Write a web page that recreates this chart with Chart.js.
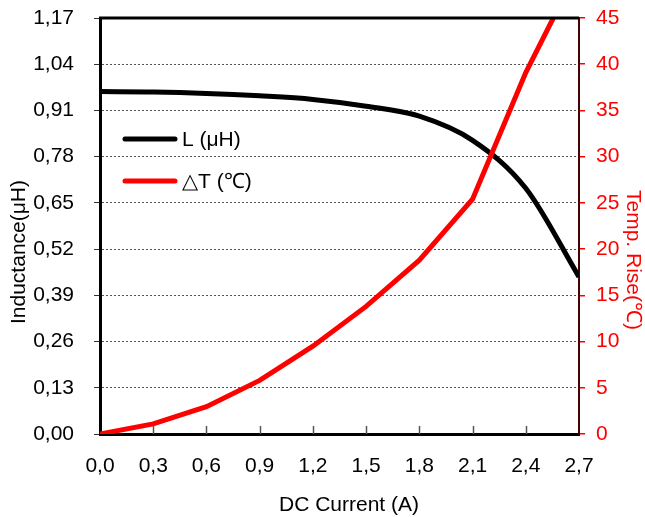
<!DOCTYPE html>
<html>
<head>
<meta charset="utf-8">
<script src="https://cdn.jsdelivr.net/npm/chart.js@4.4.0/dist/chart.umd.min.js"></script>
<style>
  html, body { margin: 0; padding: 0; background: #fff; }
  #chart { display: block; }
</style>
</head>
<body>
<canvas id="chart" width="645" height="517"></canvas>
<script>
// values
const currentA = [0, 0.3, 0.6, 0.9, 1.2, 1.5, 1.8, 2.1, 2.4, 2.7];
const inductanceUH = [0.963, 0.962, 0.958, 0.951, 0.941, 0.922, 0.894, 0.826, 0.691, 0.442];
const tempRiseC = [0, 1.1, 2.95, 5.8, 9.5, 13.8, 18.8, 25.4, 39.1, 50.5];

const seriesLabels = ['L (μH)', '△T (℃)'];
const xTitle = 'DC Current (A)';
const yLeftTitle = 'Inductance(μH)';
const yRightTitle = 'Temp. Rise(℃)';

const FONT = '"Liberation Sans", Arial, sans-serif';
const RED = '#ff0000';

const pairs = (xs, ys) => xs.map((x, i) => ({ x: x, y: ys[i] }));
const comma = (v, d) => Number(v).toFixed(d).replace('.', ',');

// fixed axis sizes so the plot box lands where it is in the datasheet
const fitY = width => s => {
    s.width = width;
    s.paddingTop = 0;
    s.paddingBottom = 0;
};

/**
 * Frame, inner ticks, axis titles and the in-plot legend
 */
const extrasPlugin = {
    id: 'extras',
    beforeDatasetsDraw(chart) {
        const { ctx, chartArea } = chart;
        const xs = chart.scales.x;
        ctx.save();
        ctx.strokeStyle = '#555';
        ctx.lineWidth = 1.5;
        xs.ticks.forEach((t, i) => {
            if (i === 0 || i === xs.ticks.length - 1) return;
            const px = Math.round(xs.getPixelForValue(t.value)) + 0.5;
            ctx.beginPath();
            ctx.moveTo(px, chartArea.bottom - 8);
            ctx.lineTo(px, chartArea.bottom);
            ctx.stroke();
        });
        ctx.restore();
    },
    afterDatasetsDraw(chart) {
        const { ctx, chartArea } = chart;
        ctx.save();

        // top frame line
        ctx.strokeStyle = '#000';
        ctx.lineWidth = 3;
        ctx.beginPath();
        ctx.moveTo(chartArea.left - 1, chartArea.top);
        ctx.lineTo(chartArea.right, chartArea.top);
        ctx.stroke();

        // axis titles
        ctx.font = '21px ' + FONT;
        ctx.textAlign = 'center';
        ctx.textBaseline = 'middle';
        ctx.fillStyle = '#000';
        ctx.fillText(xTitle, 349, 505);

        ctx.save();
        ctx.translate(19, 252);
        ctx.rotate(-Math.PI / 2);
        ctx.fillText(yLeftTitle, 0, 0);
        ctx.restore();

        ctx.save();
        ctx.fillStyle = RED;
        ctx.translate(633, 260);
        ctx.rotate(Math.PI / 2);
        ctx.fillText(yRightTitle, 0, 0);
        ctx.restore();

        // legend
        const rows = [139, 181];
        chart.data.datasets.slice().sort((a, b) => b.order - a.order).forEach((ds, i) => {
            const y = rows[i];
            ctx.strokeStyle = ds.borderColor;
            ctx.lineWidth = 5;
            ctx.lineCap = 'round';
            ctx.beginPath();
            ctx.moveTo(125, y);
            ctx.lineTo(175, y);
            ctx.stroke();
            ctx.fillStyle = '#000';
            ctx.textAlign = 'left';
            ctx.fillText(ds.label, 182, y + 1);
        });

        ctx.restore();
    }
};

const chart = new Chart(document.getElementById('chart'), {
    type: 'line',
    data: {
        datasets: [
            {
                label: seriesLabels[1],
                data: pairs(currentA, tempRiseC),
                yAxisID: 'y1',
                borderColor: RED,
                borderWidth: 5,
                pointRadius: 0,
                tension: 0,
                order: 0
            },
            {
                label: seriesLabels[0],
                data: pairs(currentA, inductanceUH),
                yAxisID: 'y',
                borderColor: '#000',
                borderWidth: 5,
                pointRadius: 0,
                cubicInterpolationMode: 'monotone',
                order: 1
            }
        ]
    },
    options: {
        responsive: false,
        animation: false,
        layout: { padding: { top: 18, left: 0, right: 0, bottom: 0 } },
        plugins: {
            legend: { display: false },
            tooltip: { enabled: false }
        },
        scales: {
            x: {
                type: 'linear',
                position: 'bottom',
                min: 0,
                max: 2.7,
                afterFit: s => { s.height = 83; },
                ticks: {
                    stepSize: 0.3,
                    autoSkip: false,
                    maxRotation: 0,
                    padding: 12,
                    color: '#000',
                    font: { family: FONT, size: 21 },
                    callback: v => comma(v, 1)
                },
                grid: { display: false },
                border: { color: '#000', width: 3 }
            },
            y: {
                position: 'left',
                min: 0,
                max: 1.17,
                afterFit: fitY(100),
                ticks: {
                    stepSize: 0.13,
                    padding: 20,
                    color: '#000',
                    font: { family: FONT, size: 21 },
                    callback: v => comma(v, 2)
                },
                grid: { color: '#555', lineWidth: 1, tickLength: 6, tickColor: '#333' },
                border: { color: '#000', width: 3, dash: [2, 2] }
            },
            y1: {
                position: 'right',
                min: 0,
                max: 45,
                afterFit: fitY(66),
                ticks: {
                    stepSize: 5,
                    padding: 11,
                    color: RED,
                    font: { family: FONT, size: 21 }
                },
                grid: { drawOnChartArea: false, tickLength: 6, tickColor: RED, lineWidth: 1.5 },
                border: { color: '#4a0000', width: 2 }
            }
        }
    },
    plugins: [extrasPlugin]
});
</script>
</body>
</html>
